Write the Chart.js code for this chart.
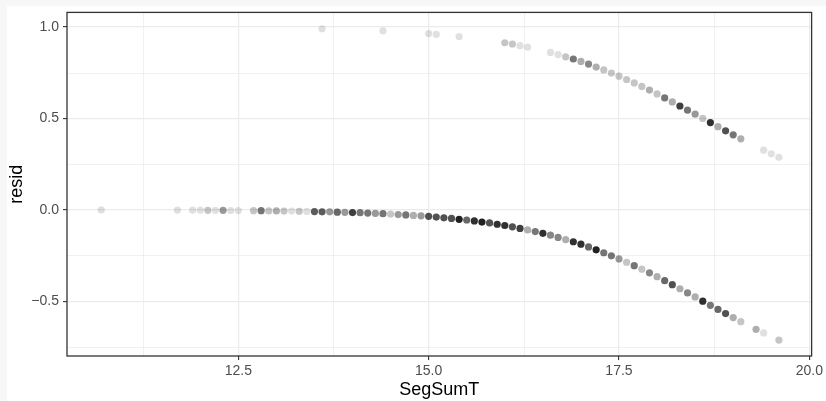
<!DOCTYPE html>
<html>
<head>
<meta charset="utf-8">
<script src="https://cdn.jsdelivr.net/npm/chart.js@4"></script>
<style>
  html, body { margin: 0; padding: 0; background: #fff; }
  canvas { display: block; }
</style>
</head>
<body>
<canvas id="myChart" width="826" height="401"></canvas>
<script>
// residuals at y = 0 side (observations that were 0)
const lowX = [10.7, 11.7, 11.9, 12.0, 12.1, 12.2, 12.3, 12.4, 12.5, 12.7, 12.8, 12.9, 13.0, 13.1, 13.2, 13.3, 13.4,
  13.5, 13.6, 13.7, 13.8, 13.9, 14.0, 14.1, 14.2, 14.3, 14.4, 14.5, 14.6, 14.7, 14.8, 14.9, 15.0, 15.1, 15.2,
  15.3, 15.4, 15.5, 15.6, 15.7, 15.8, 15.9, 16.0, 16.1, 16.2, 16.3, 16.4, 16.5, 16.6, 16.7, 16.8, 16.9, 17.0,
  17.1, 17.2, 17.3, 17.4, 17.5, 17.6, 17.7, 17.8, 17.9, 18.0, 18.1, 18.2, 18.3, 18.4, 18.5, 18.6, 18.7, 18.8,
  18.9, 19.0, 19.1, 19.3, 19.4, 19.6];
const lowResid = [-0.001, -0.002, -0.002, -0.002, -0.003, -0.003, -0.003, -0.004, -0.004, -0.005, -0.005, -0.006,
  -0.006, -0.007, -0.007, -0.008, -0.009, -0.010, -0.011, -0.011, -0.013, -0.014, -0.015, -0.016, -0.018, -0.020,
  -0.021, -0.023, -0.026, -0.028, -0.031, -0.033, -0.036, -0.040, -0.044, -0.047, -0.052, -0.056, -0.061, -0.067,
  -0.072, -0.079, -0.086, -0.093, -0.102, -0.110, -0.119, -0.129, -0.139, -0.151, -0.163, -0.175, -0.188, -0.203,
  -0.219, -0.235, -0.252, -0.269, -0.287, -0.306, -0.325, -0.345, -0.366, -0.388, -0.410, -0.432, -0.455, -0.477,
  -0.500, -0.523, -0.545, -0.568, -0.590, -0.612, -0.654, -0.674, -0.713];
// how many observations sit on each point (drives the darkness)
const lowCount = [1, 1, 1, 1, 2, 1, 4, 1, 1, 2, 6, 2, 3, 2, 1, 2, 1,
  8, 8, 4, 7, 4, 11, 6, 6, 4, 6, 2, 4, 6, 3, 4, 9, 9, 9,
  9, 16, 7, 13, 16, 9, 13, 13, 9, 11, 3, 6, 13, 5, 5, 3, 13, 13,
  7, 16, 6, 6, 4, 2, 6, 2, 5, 3, 7, 9, 3, 5, 3, 13, 6, 7,
  9, 3, 2, 3, 1, 2];

// residuals at y = 1 side (observations that were 1)
const highX = [13.6, 14.4, 15.0, 15.1, 15.4, 16.0, 16.1, 16.2, 16.3, 16.6, 16.7, 16.8, 16.9, 17.0, 17.1, 17.2,
  17.3, 17.4, 17.5, 17.6, 17.7, 17.8, 17.9, 18.0, 18.1, 18.2, 18.3, 18.4, 18.5, 18.6, 18.7, 18.8, 18.9, 19.0,
  19.1, 19.4, 19.5, 19.6];
const highResid = [0.990, 0.979, 0.964, 0.960, 0.948, 0.914, 0.907, 0.898, 0.890, 0.861, 0.849, 0.837, 0.825, 0.812,
  0.797, 0.781, 0.765, 0.748, 0.731, 0.713, 0.694, 0.675, 0.655, 0.634, 0.612, 0.590, 0.568, 0.545, 0.523, 0.500,
  0.477, 0.455, 0.432, 0.410, 0.388, 0.326, 0.306, 0.287];
const highCount = [1, 1, 1, 1, 1, 2, 2, 1, 1, 1, 1, 2, 6, 3, 5, 3,
  2, 2, 2, 2, 2, 2, 3, 2, 6, 3, 11, 6, 4, 2, 13, 3, 9, 6,
  3, 1, 1, 1];

const xTickValues = [12.5, 15, 17.5, 20];
const xTickLabels = ['12.5', '15.0', '17.5', '20.0'];
const xMinor = [11.25, 13.75, 16.25, 18.75];
const yTickValues = [-0.5, 0, 0.5, 1];
const yTickLabels = ['\u22120.5', '0.0', '0.5', '1.0'];
const yMinor = [-0.75, -0.25, 0.25, 0.75];

const ALPHA = 0.12;
function shade(n) {
  return 'rgba(0,0,0,' + (1 - Math.pow(1 - ALPHA, n)).toFixed(3) + ')';
}
function pts(xs, ys) {
  return xs.map((x, i) => ({ x: x, y: ys[i] }));
}

const FONT = "'Liberation Sans', Arial, sans-serif";

const panelPlugin = {
  id: 'panel',
  beforeDraw(chart) {
    const ctx = chart.ctx;
    ctx.save();
    ctx.fillStyle = '#ffffff';
    ctx.fillRect(0, 0, chart.width, chart.height);
    ctx.fillStyle = '#f7f7f7';
    ctx.fillRect(0, 0, 7, chart.height);
    ctx.fillRect(0, 0, chart.width, 6);
    ctx.restore();
  },
  beforeDatasetsDraw(chart) {
    const { ctx, chartArea: a, scales: { x, y } } = chart;
    ctx.save();
    ctx.strokeStyle = '#ebebeb';
    ctx.lineWidth = 0.7;
    ctx.beginPath();
    xMinor.forEach(v => {
      const px = Math.round(x.getPixelForValue(v)) + 0.5;
      ctx.moveTo(px, a.top);
      ctx.lineTo(px, a.bottom);
    });
    yMinor.forEach(v => {
      const py = Math.round(y.getPixelForValue(v)) + 0.5;
      ctx.moveTo(a.left, py);
      ctx.lineTo(a.right, py);
    });
    ctx.stroke();
    ctx.restore();
  },
  afterDraw(chart) {
    const { ctx, chartArea: a } = chart;
    ctx.save();
    ctx.strokeStyle = '#333333';
    ctx.lineWidth = 1.3;
    ctx.strokeRect(a.left, a.top, a.right - a.left, a.bottom - a.top);
    ctx.restore();
  }
};

new Chart('myChart', {
  type: 'scatter',
  data: {
    datasets: [{
      data: pts(lowX, lowResid),
      pointBackgroundColor: lowCount.map(shade),
      pointBorderWidth: 0,
      pointRadius: 3.6
    }, {
      data: pts(highX, highResid),
      pointBackgroundColor: highCount.map(shade),
      pointBorderWidth: 0,
      pointRadius: 3.6
    }]
  },
  options: {
    responsive: false,
    animation: false,
    events: [],
    layout: { padding: { top: 6, right: 11, left: 0, bottom: 0 } },
    plugins: { legend: { display: false }, tooltip: { enabled: false } },
    scales: {
      x: {
        type: 'linear',
        min: 10.25,
        max: 20.03,
        afterFit: s => { s.height = 45; },
        afterBuildTicks: s => { s.ticks = xTickValues.map(v => ({ value: v })); },
        ticks: {
          callback: (v) => xTickLabels[xTickValues.indexOf(v)],
          color: '#4d4d4d',
          font: { family: FONT, size: 14 },
          padding: 3,
          maxRotation: 0,
          autoSkip: false
        },
        grid: { color: '#ebebeb', lineWidth: 1.2, tickLength: 4, tickColor: '#333333', tickWidth: 1.1 },
        border: { display: false },
        title: { display: true, text: 'SegSumT', color: '#000', font: { family: FONT, size: 18 }, padding: { top: 0, bottom: 0 } }
      },
      y: {
        type: 'linear',
        min: -0.80,
        max: 1.08,
        afterFit: s => { s.width = 67; },
        afterBuildTicks: s => { s.ticks = yTickValues.map(v => ({ value: v })); },
        ticks: {
          callback: (v) => yTickLabels[yTickValues.indexOf(v)],
          color: '#4d4d4d',
          font: { family: FONT, size: 14 },
          padding: 4,
          autoSkip: false
        },
        grid: { color: '#ebebeb', lineWidth: 1.2, tickLength: 4, tickColor: '#333333', tickWidth: 1.1 },
        border: { display: false },
        title: { display: true, text: 'resid', color: '#000', font: { family: FONT, size: 18 }, padding: { top: 6, bottom: 0 } }
      }
    }
  },
  plugins: [panelPlugin]
});
</script>
</body>
</html>
